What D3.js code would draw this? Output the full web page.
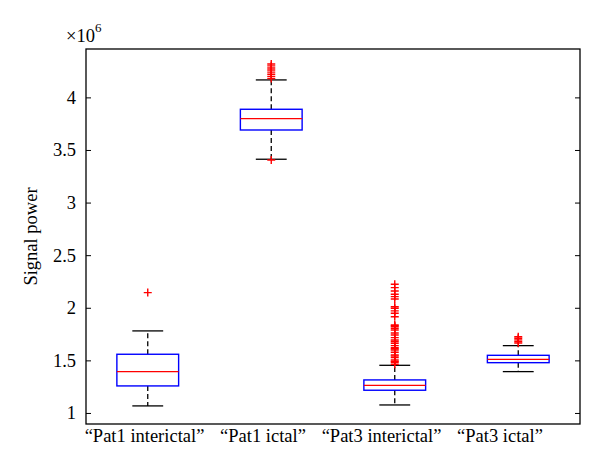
<!DOCTYPE html>
<html>
<head>
<meta charset="utf-8">
<script src="https://cdn.jsdelivr.net/npm/d3@7"></script>
<style>
  html, body { margin: 0; padding: 0; background: #fff; }
  svg { display: block; }
  text { font-family: "Liberation Serif", "DejaVu Serif", serif; fill: #000; }
</style>
</head>
<body>
<div id="chart"></div>
<script>
// ---- Data (values in units of 10^6) ----
const categories = ["\u201CPat1 interictal\u201D", "\u201CPat1 ictal\u201D", "\u201CPat3 interictal\u201D", "\u201CPat3 ictal\u201D"];
const whiskerLow  = [1.067, 3.412, 1.076, 1.393];
const q1          = [1.257, 3.690, 1.216, 1.478];
const median      = [1.393, 3.798, 1.263, 1.510];
const q3          = [1.558, 3.887, 1.314, 1.548];
const whiskerHigh = [1.780, 4.166, 1.453, 1.640];
const outliersPat1Inter = [2.144];
const outliersPat1Ictal = [4.318, 4.300, 4.280, 4.260, 4.240, 4.220, 4.200, 4.180, 3.405];
const outliersPat3Inter = [2.223, 2.191, 2.160, 2.128, 2.106, 2.084, 2.010, 1.995, 1.970, 1.948, 1.915,
                           1.837, 1.821, 1.805, 1.789, 1.741, 1.716, 1.694, 1.663, 1.640, 1.621, 1.599,
                           1.577, 1.551, 1.526, 1.504, 1.482, 1.463, 1.830, 1.760, 1.680, 1.610, 1.540, 1.490];
const outliersPat3Ictal = [1.725, 1.710, 1.695, 1.680, 1.665];
const outliers = [outliersPat1Inter, outliersPat1Ictal, outliersPat3Inter, outliersPat3Ictal];
const yTicks = [1, 1.5, 2, 2.5, 3, 3.5, 4];
const yTickLabels = ["1", "1.5", "2", "2.5", "3", "3.5", "4"];
const yLabel = "Signal power";

// ---- Layout ----
const W = 600, H = 474;
const plot = { left: 86, right: 580, top: 49, bottom: 424 };
const FS = 18.5;

const svg = d3.select("#chart").append("svg").attr("width", W).attr("height", H);

const x = d3.scaleBand().domain(categories).range([plot.left, plot.right]).padding(0);
const labelX = d3.scalePoint().domain(categories).range([144.5, 500]);
const y = d3.scaleLinear().domain([0.895, 4.46]).range([plot.bottom, plot.top]);

const boxW = x.bandwidth() * 0.5;
const capW = x.bandwidth() * 0.25;

const data = categories.map((c, i) => ({
  c, lo: whiskerLow[i], q1: q1[i], med: median[i], q3: q3[i], hi: whiskerHigh[i], out: outliers[i]
}));

// y axis left (ticks inward)
const yAxisL = d3.axisLeft(y).tickValues(yTicks).tickFormat((d, i) => yTickLabels[i]).tickSizeInner(-5).tickSizeOuter(0).tickPadding(10);
const gL = svg.append("g").attr("transform", `translate(${plot.left},0)`).call(yAxisL);
gL.select(".domain").remove();
gL.selectAll("line").attr("stroke", "#000");
gL.attr("font-size", null).attr("font-family", null);
gL.selectAll("text").attr("font-size", FS).attr("fill", "#000");

const yAxisR = d3.axisRight(y).tickValues(yTicks).tickFormat("").tickSizeInner(-5).tickSizeOuter(0);
const gR = svg.append("g").attr("transform", `translate(${plot.right},0)`).call(yAxisR);
gR.select(".domain").remove();
gR.selectAll("line").attr("stroke", "#000");

// frame
svg.append("rect").attr("x", plot.left).attr("y", plot.top)
  .attr("width", plot.right - plot.left).attr("height", plot.bottom - plot.top)
  .attr("fill", "none").attr("stroke", "#000").attr("stroke-width", 1.3);

// boxes
const g = svg.append("g");
const bx = g.selectAll("g.box").data(data).join("g").attr("class", "box");

// dashed whiskers
bx.append("line")
  .attr("x1", d => x(d.c) + x.bandwidth() / 2).attr("x2", d => x(d.c) + x.bandwidth() / 2)
  .attr("y1", d => y(d.q3)).attr("y2", d => y(d.hi))
  .attr("stroke", "#000").attr("stroke-width", 1.3).attr("stroke-dasharray", "5,3");
bx.append("line")
  .attr("x1", d => x(d.c) + x.bandwidth() / 2).attr("x2", d => x(d.c) + x.bandwidth() / 2)
  .attr("y1", d => y(d.q1)).attr("y2", d => y(d.lo))
  .attr("stroke", "#000").attr("stroke-width", 1.3).attr("stroke-dasharray", "5,3");
// caps
["hi", "lo"].forEach(k => {
  bx.append("line")
    .attr("x1", d => x(d.c) + x.bandwidth() / 2 - capW / 2).attr("x2", d => x(d.c) + x.bandwidth() / 2 + capW / 2)
    .attr("y1", d => y(d[k])).attr("y2", d => y(d[k]))
    .attr("stroke", "#000").attr("stroke-width", 1.3);
});
// box
bx.append("rect")
  .attr("x", d => x(d.c) + (x.bandwidth() - boxW) / 2).attr("width", boxW)
  .attr("y", d => y(d.q3)).attr("height", d => y(d.q1) - y(d.q3))
  .attr("fill", "none").attr("stroke", "#0000ff").attr("stroke-width", 1.4);
// median
bx.append("line")
  .attr("x1", d => x(d.c) + (x.bandwidth() - boxW) / 2).attr("x2", d => x(d.c) + (x.bandwidth() + boxW) / 2)
  .attr("y1", d => y(d.med)).attr("y2", d => y(d.med))
  .attr("stroke", "#ff0000").attr("stroke-width", 1.3);
// outliers (+ markers)
bx.each(function(d) {
  const cx = x(d.c) + x.bandwidth() / 2;
  d3.select(this).selectAll("path.out").data(d.out).join("path").attr("class", "out")
    .attr("d", v => `M${cx - 4},${y(v)}H${cx + 4}M${cx},${y(v) - 4}V${y(v) + 4}`)
    .attr("stroke", "#ff0000").attr("stroke-width", 1.4).attr("fill", "none");
});

// x labels
svg.append("g").selectAll("text").data(categories).join("text")
  .attr("x", d => labelX(d)).attr("y", 442)
  .attr("text-anchor", "middle").attr("font-size", FS)
  .text(d => d);

// y label
svg.append("text")
  .attr("transform", `translate(37,${(plot.top + plot.bottom) / 2}) rotate(-90)`)
  .attr("text-anchor", "middle").attr("font-size", FS)
  .text(yLabel);

// exponent
const ex = svg.append("text").attr("x", 66).attr("y", 42).attr("font-size", FS);
ex.append("tspan").text("\u00D710");
ex.append("tspan").attr("dy", -10).attr("font-size", 13).text("6");
</script>
</body>
</html>
